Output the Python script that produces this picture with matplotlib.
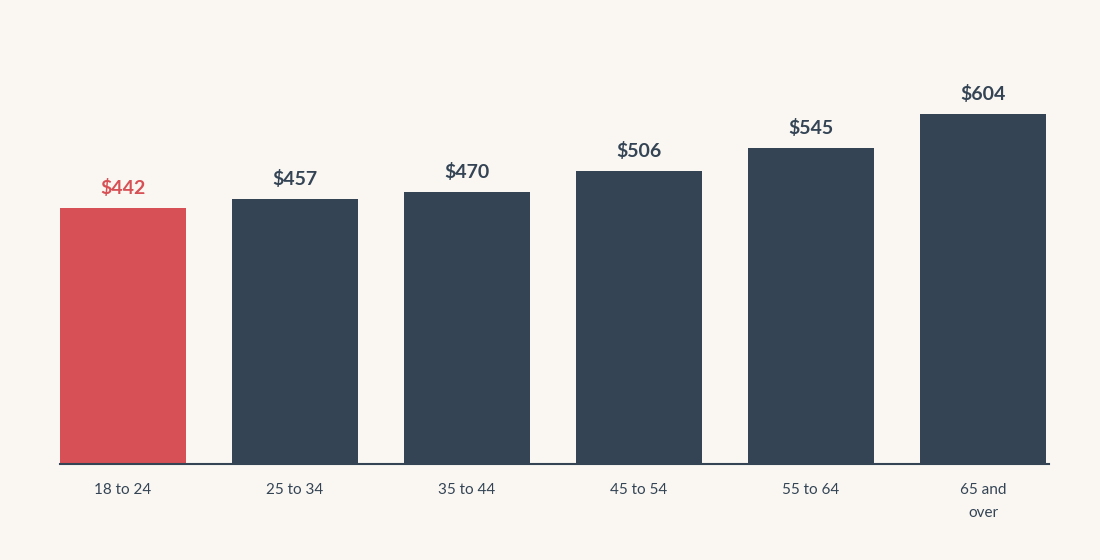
import numpy as np
import matplotlib.pyplot as plt

age_groups = ['18 to 24', '25 to 34', '35 to 44', '45 to 54', '55 to 64', '65 and\nover']
spending = [442, 457, 470, 506, 545, 604]
highlight = '18 to 24'

bg = '#faf7f2'
dark = '#344455'
red = '#d75055'

plt.rcParams['font.family'] = ['Lato', 'DejaVu Sans']

fig = plt.figure(figsize=(11, 5.6), dpi=100, facecolor=bg)
ax = fig.add_axes([60 / 1100, 96 / 560, 989 / 1100, 414 / 560])
ax.set_facecolor(bg)

x = np.arange(len(age_groups))
colors = [red if g == highlight else dark for g in age_groups]
bars = ax.bar(x, spending, width=0.7326, color=colors)

for rect, val, c in zip(bars, spending, colors):
    ax.annotate(f'${val}', (rect.get_x() + rect.get_width() / 2, val),
                xytext=(0, 8), textcoords='offset points',
                ha='center', va='bottom', fontsize=14, fontweight='bold', color=c)

ax.set_xlim(-0.3663, 5.3837)
ax.set_ylim(0, 414 / 0.5793)
ax.set_xticks(x)
ax.set_xticklabels(age_groups, fontsize=11, color=dark, linespacing=1.75)
ax.tick_params(axis='x', length=0, pad=14)
ax.set_yticks([])
for s in ['top', 'right', 'left']:
    ax.spines[s].set_visible(False)
ax.spines['bottom'].set_color(dark)
ax.spines['bottom'].set_linewidth(1.5)

fig.savefig('out.png', dpi=100, facecolor=bg)
